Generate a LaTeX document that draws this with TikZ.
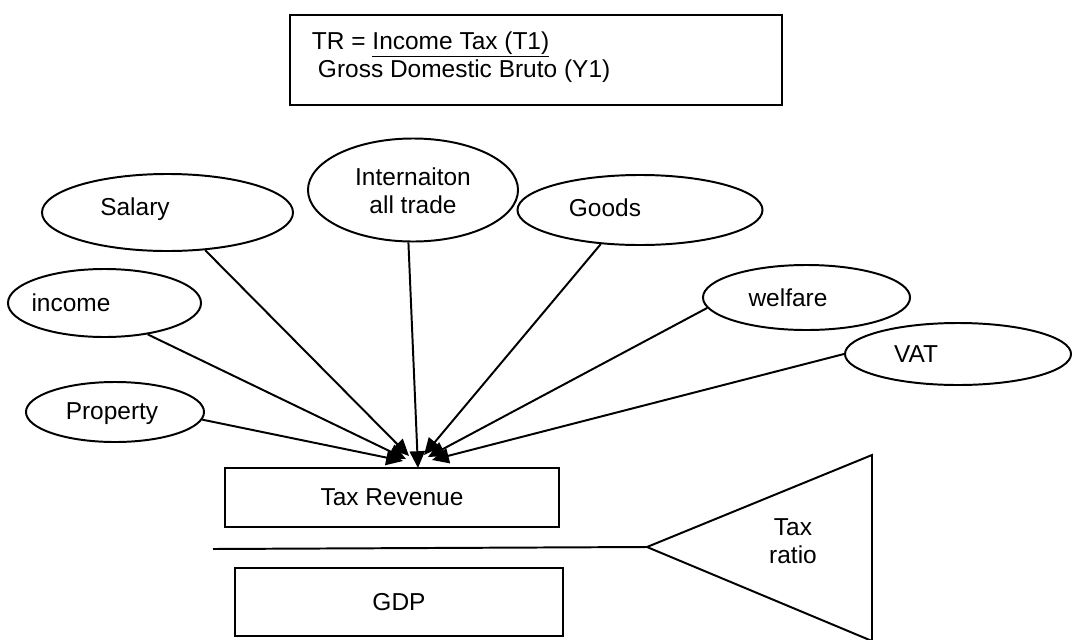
\documentclass[tikz,border=0pt]{standalone}
\usepackage{fontspec}
\setmainfont{Liberation Sans}
\usepackage{tikz}
\usetikzlibrary{shapes.geometric,arrows.meta}

\begin{document}
\begin{tikzpicture}[x=0.025cm, y=-0.025cm, line width=1.4pt,
    font=\fontsize{17.4}{20}\selectfont,
    oval/.style={draw, ellipse, inner sep=0pt},
    box/.style={draw, rectangle, inner sep=0pt},
    word/.style={inner sep=0pt, align=center},
    arr/.style={-{Triangle[length=0.42cm,width=0.38cm]}}]

\useasboundingbox (0,0) rectangle (1073,639);

% formula box
\node(FORMULA)  [box, minimum width=12.3cm, minimum height=2.25cm] at (536,60) {};
\node(FORMTXT)  [word, align=left, anchor=north west] at (311,31)
    {TR = \underline{Income Tax (T1)}\\\hspace{0.15cm}Gross Domestic Bruto (Y1)};

% kinds of tax
\node(SALARY)   [oval, minimum width=6.275cm, minimum height=1.925cm] at (167.5,212.5) {};
\node(INTL)     [oval, minimum width=5.25cm,  minimum height=2.575cm] at (413,190) {};
\node(GOODS)    [oval, minimum width=6.125cm, minimum height=1.75cm]  at (640,210) {};
\node(INCOME)   [oval, minimum width=4.825cm, minimum height=1.7cm]   at (104.5,303) {};
\node(PROPERTY) [oval, minimum width=4.45cm,  minimum height=1.5cm]   at (115,412) {};
\node(WELFARE)  [oval, minimum width=5.175cm, minimum height=1.625cm] at (806.5,297.5) {};
\node(VAT)      [oval, minimum width=5.65cm,  minimum height=1.55cm]  at (958,354) {};

\node(SALARYTXT)   [word] at (135,209)  {Salary};
\node(INTLTXT)     [word] at (413,191)  {Internaiton\\all trade};
\node(GOODSTXT)    [word] at (605,208)  {Goods};
\node(INCOMETXT)   [word] at (71,303)   {income};
\node(PROPERTYTXT) [word] at (112,414)  {Property};
\node(WELFARETXT)  [word] at (788,298)  {welfare};
\node(VATTXT)      [word] at (916,354)  {VAT};

% revenue and gdp
\node(TAXREV)   [box, minimum width=8.35cm, minimum height=1.475cm] at (392,497.5) {Tax Revenue};
\node(GDP)      [box, minimum width=8.2cm,  minimum height=1.7cm]   at (399,602) {GDP};

% arrow ends
\coordinate(HUBP) at (403,461);
\coordinate(HUBI) at (406,459);
\coordinate(HUBS) at (409,456);
\coordinate(HUBT) at (418,468);
\coordinate(HUBG) at (424,455);
\coordinate(HUBW) at (428,457);
\coordinate(HUBV) at (432,460);

\draw[arr] (PROPERTY.355) -- (HUBP);
\draw[arr] (INCOME.324)   -- (HUBI);
\draw[arr] (SALARY.315)   -- (HUBS);
\draw[arr] (INTL.265)     -- (HUBT);
\draw[arr] (GOODS.221)    -- (HUBG);
\draw[arr] (WELFARE.186)  -- (HUBW);
\draw[arr] (VAT.west)     -- (HUBV);

% ratio
\coordinate(LEFTEND) at (213,549);
\coordinate(APEX)    at (647,547);
\coordinate(TOPR)    at (872,455);
\coordinate(BOTR)    at (872,641);
\draw (LEFTEND) -- (APEX);
\draw (APEX) -- (TOPR) -- (BOTR) -- cycle;
\node(RATIO) [word] at (793,541) {Tax\\ratio};
\end{tikzpicture}
\end{document}
